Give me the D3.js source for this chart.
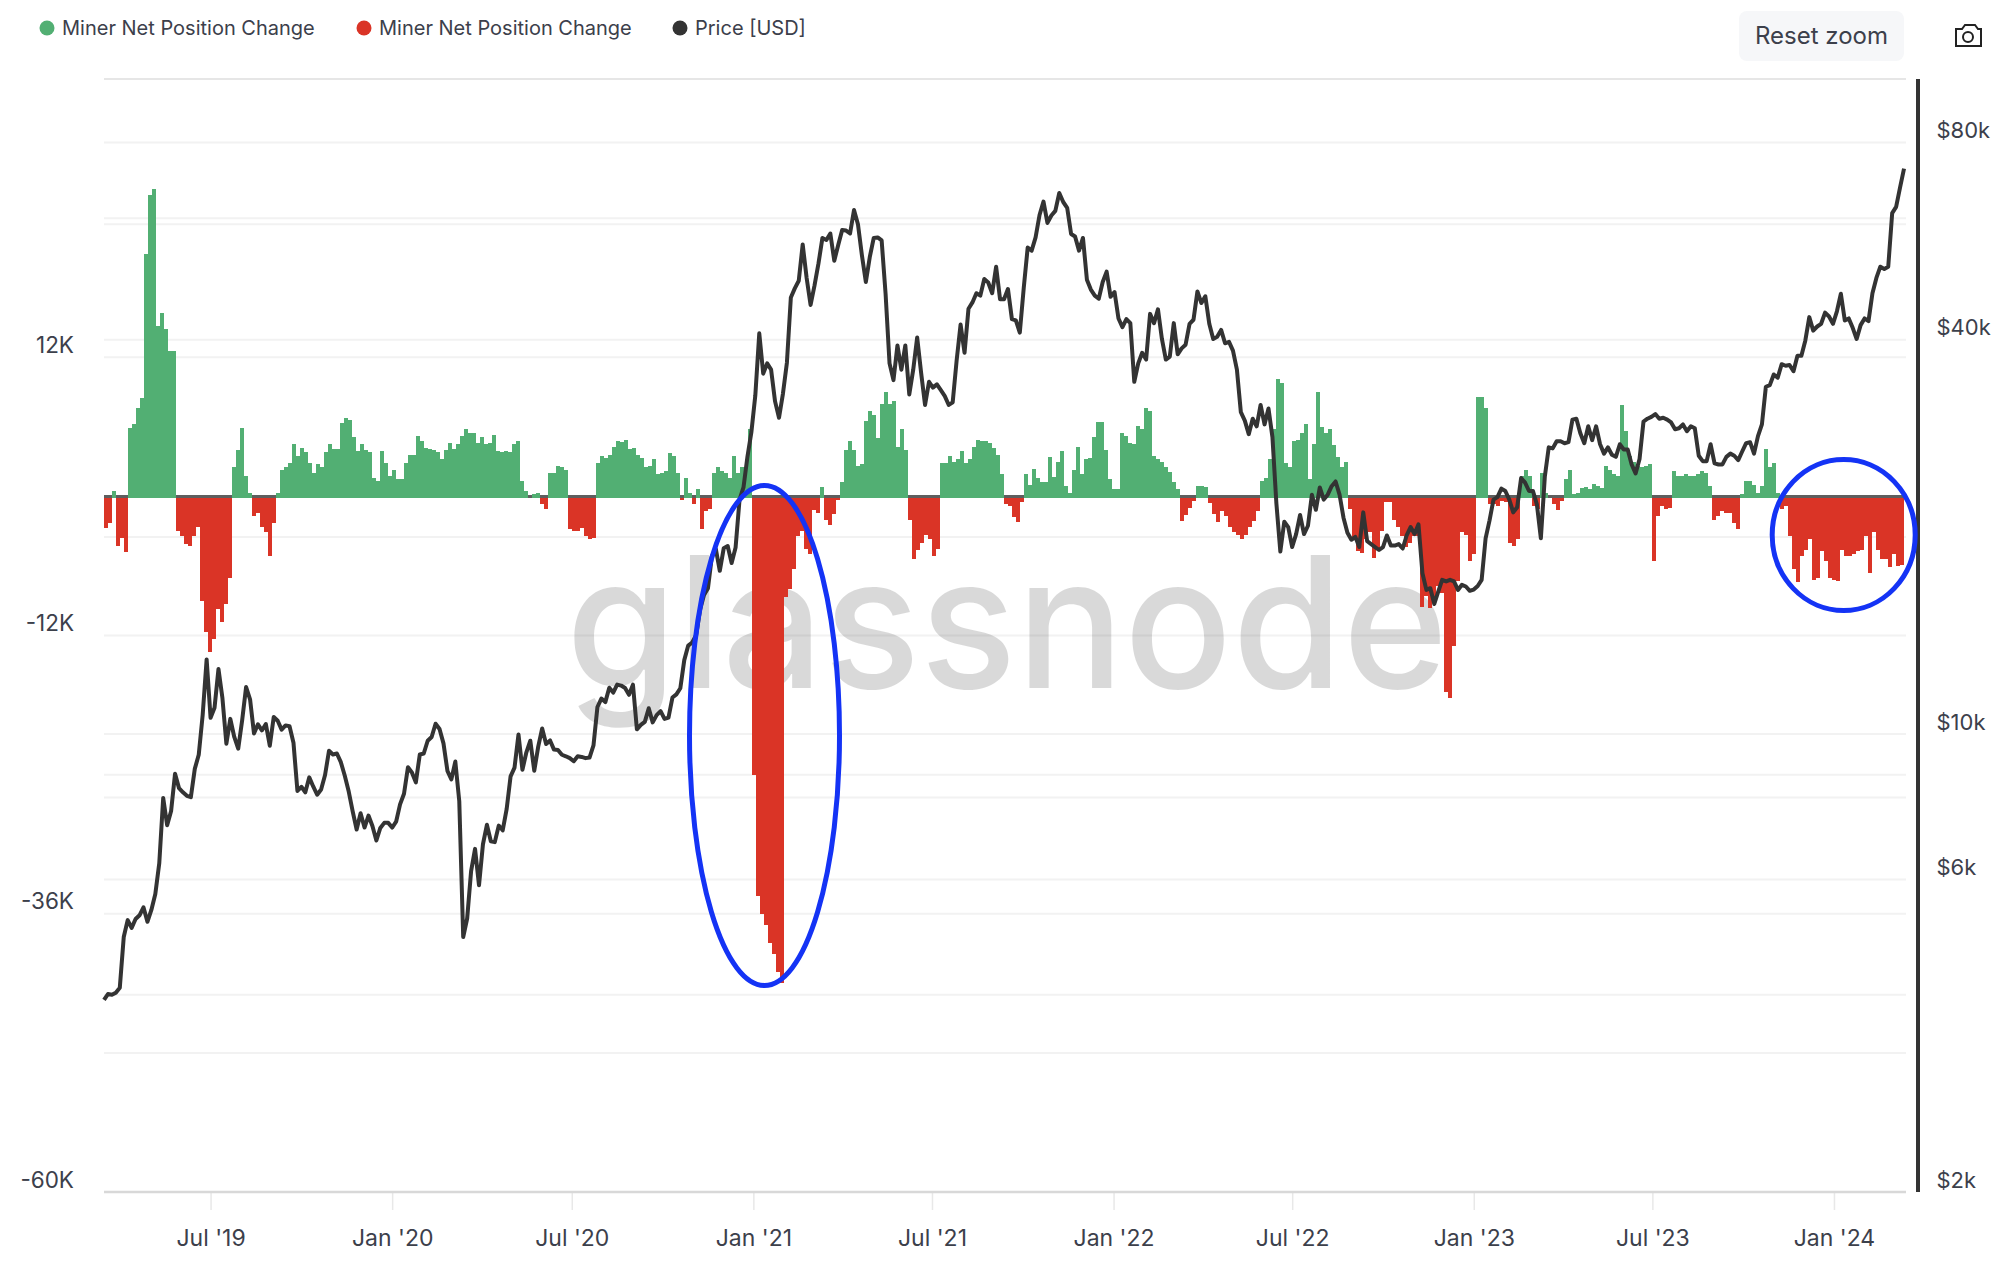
<!DOCTYPE html>
<html>
<head>
<meta charset="utf-8">
<style>
  html, body { margin: 0; padding: 0; background: #fff; }
  svg { display: block; font-family: Inter, "Noto Sans", sans-serif; }
</style>
<script src="https://cdn.jsdelivr.net/npm/d3@7"></script>
</head>
<body>
<div id="chart"></div>
<script>
// Miner net position change, thousands of BTC, one value per ~4 days from Mar 2019
const netPosition = [
  -2.7,-2.3,0.5,-4.3,-3.6,-4.8,5.9,6.2,7.6,8.5,
  20.9,26,26.5,14.7,15.8,14.4,12.5,12.5,-3,-3.4,
  -4.1,-4.3,-3.4,-2.6,-9,-11.7,-13.4,-12.3,-9.7,-10.8,
  -9.3,-7,2.5,4,5.9,1.8,0.3,-1.7,-1.4,-2.6,
  -3.1,-5.1,-2.3,0.3,2.3,2.5,2.9,4.5,3.5,4.2,
  3.8,2.9,2,2.8,2.5,3.8,4.5,4.1,4.1,6.3,
  6.8,6.6,5.1,3.9,4.5,4,3.8,1.6,1.3,3.9,
  2.9,1.8,2.3,1.5,1.5,2.9,3.6,3.6,5.2,4.8,
  4.2,4.1,4,3.8,3.2,4,4.6,4.1,4.5,5.2,
  5.8,5.5,5.5,4.6,5.1,4.5,4.6,5.3,3.9,3.8,
  3.9,3.8,4.5,4.8,1.3,0.5,-0.1,0.2,0.3,-0.7,
  -1.1,2,2,
  2.6,2.5,2.3,-2.8,-3,-3,-2.7,-3.4,-3.7,-3.6,
  2.9,3.5,3.3,3.6,4.3,4.8,4.7,4.9,4.1,4.2,
  3.6,3.3,2.5,2.6,3.2,1.9,2,2.2,3.7,3.5,
  2,-0.3,1.6,0.3,-0.7,0.6,-2.8,-1.3,-1.1,2,
  2.5,2.2,2,1.6,3.5,2,2.5,2.5,5.8,
  -24,-34.5,-36,-37,-38.5,-39.5,-41,-42,-8.7,-8,-6.3,-3.4,-3,-4.5,-5,
  -1.2,-1.4,0.8,-2,-2.5,-1.5,-0.3,1.2,4,4.8,4,2.6,2.8,6.5,7.4,7,5,8,9,8,8.2,4.3,5.8,4,
  -2,-5.4,-4.6,-4,-3.3,-3.7,-5.1,-4.5,
  2.9,2.9,3.5,3,3.2,3.9,2.9,3.2,4.3,4.9,4.8,4.8,4.6,4.2,3.6,1.9,
  -0.7,-0.8,-1.8,-2.2,-0.5,1.9,1,2.4,1.6,1.2,
  1.2,3.4,1.7,3,3.9,0.9,0.3,2.3,4.3,1.9,
  3.2,3.3,5.1,6.4,6.4,4,1.5,0.6,0.6,5.5,
  5.2,4.6,4.5,6.1,5.8,7.6,7.4,3.5,3.2,3,
  2.5,2.1,1.2,0.6,-2.1,-1.6,-1,-0.4,0.9,0.9,
  0.8,-0.6,-1.5,-2.2,-1.3,-1.7,-2.6,-3.1,-3.3,-3.7,
  -3.3,-2.6,-2.1,-1.3,1.3,1.6,3.2,5.8,10.1,9.8,
  2.9,2.5,4.8,4.9,5.5,6.2,1.5,4.5,9,6,
  5.5,5.8,4.4,3.4,2.5,3,-1.1,-3.7,-4.7,-4.9,
  -3.7,-3.1,-5.3,-4.6,-3,-0.5,-0.5,-2,-2.6,-3.4,
  -4.4,-4,-3.4,-3.4,-9.5,-8.6,-9.6,-9.2,-7.7,-8.3,
  -16.9,-17.4,-12.9,-7.3,-3.1,-3.3,-5.6,-5,8.6,8.6,
  7.6,-0.7,-0.7,-0.8,-0.4,-0.5,-4,-4.3,-3.7,1.8,
  2.3,1.8,-0.8,-1.1,2,0.3,-0.1,-0.7,-1.2,-0.4,
  1.5,2.3,0.2,0.3,0.7,0.8,0.6,1.1,0.9,0.7,
  2.6,2.3,1.9,1.8,7.9,5.6,3.5,3,2.6,2.5,
  2.6,2.8,-5.6,-1.7,-0.8,-1.1,-1,2.2,1.8,1.8,
  1.9,1.8,1.8,1.9,2.2,2,0.9,-2,-1.7,-1.3,
  -1.4,-1.4,-2.3,-2.8,0.2,1.3,1.3,1,0.3,0.9,
  4.1,2.5,2.9,0.3,-1.1,-0.8,-3.4,-6.3,-7.4,-5.1,
  -4.6,-3.7,-7.2,-7,-4.7,-5.6,-7,-7.2,-7.3,-4.6,
  -5.1,-5.1,-5,-4.7,-4.6,-3.4,-6.6,-3.1,-4.6,-5.4,
  -5.4,-6.1,-5,-6,-5.9
];

// Price in USD, one value every 4 days from 15 Mar 2019
const priceUsd = [
  3930,4010,4000,4030,4100,4900,5200,5060,5220,5290,
  5440,5170,5390,5700,6350,7990,7260,7630,8700,8270,
  8150,8050,8010,8850,9300,10700,13000,10590,10970,12570,
  11350,9670,10550,9900,9500,10500,11800,11300,10020,10350,
  10130,10360,9600,10620,10480,10160,10310,10280,9700,8190,
  8310,8150,8590,8320,8080,8230,8660,9430,9310,9340,
  9060,8640,8170,7620,7150,7570,7200,7510,7240,6880,
  7190,7320,7320,7200,7350,7810,8110,8900,8740,8440,
  9310,9340,9770,9900,10370,10180,9680,8790,8530,9080,
  7900,4900,5230,6180,6680,5880,6790,7270,6860,6840,
  7250,7130,7680,8620,8890,9990,8820,9380,9770,8790,
  9570,10200,9660,9780,9470,9460,9300,9250,9190,9090,
  9250,9230,9190,9210,9610,11000,11330,11190,11770,11570,
  11900,11860,11760,11480,11900,10170,10330,10440,10950,10420,
  10690,10840,10550,10600,11370,11500,11750,12970,13650,13800,
  14150,15480,16300,16700,18680,19160,17750,19220,19370,18250,
  19270,22800,23800,26500,28900,32900,40900,35500,36800,36000,
  32200,30400,33100,36900,46400,47900,49200,55900,49700,45200,
  48400,52300,57200,56800,58100,52800,55800,58800,58700,58100,
  63100,60000,53800,49000,53500,57200,57300,56700,47000,36800,
  34700,39200,36000,39200,33000,36000,40300,35600,31800,34500,
  33800,34200,33500,32800,31800,32100,37200,42200,38200,44600,
  45600,47100,46700,49500,48900,47100,51700,46100,46100,47800,
  43000,42800,41000,48000,55300,54700,57300,62000,65000,60300,
  61900,62900,67000,64900,63600,58000,57500,54700,57200,49400,
  47700,46700,46200,49000,50800,46500,47300,43100,41800,43000,
  42400,34500,36800,38200,37300,43800,42400,44500,40100,37300,
  37700,42400,38000,38800,39300,42300,42900,47400,45500,46600,
  42300,40100,40400,41400,39500,39700,38500,36000,31000,30100,
  28700,30300,29500,31800,29700,31400,28400,22500,19000,21100,
  20700,19300,20200,21600,20200,20800,23200,22000,23800,22800,
  23200,23900,24300,23200,21400,20300,19800,20000,19300,21800,
  19700,19500,19300,19100,19300,20100,19400,19400,19500,19200,
  20100,20700,20200,20900,17600,16600,16700,15800,16500,17200,
  17100,17200,17100,16600,16900,16800,16550,16620,16830,17200,
  19900,21200,22800,23000,23700,23500,22800,21800,22200,24600,
  24200,23500,23500,22400,19900,24700,27400,27300,28000,28000,
  27800,27900,30200,30300,28800,27800,29500,28100,29500,27700,
  26800,27400,26700,26500,27700,27200,27200,25800,25000,26300,
  30000,30300,30500,30800,30300,30400,30200,29900,29200,29300,
  29700,29000,29500,29300,26600,26100,26100,27700,25900,25800,
  25800,26500,26800,26600,26200,27000,27800,27900,26800,28500,
  29700,33900,34100,35400,35000,36700,36500,36600,35800,37800,
  37800,39900,43300,41300,41900,42300,44000,43400,42300,44200,
  47000,42800,43100,41700,40100,42100,43100,42700,47100,49700,
  51700,51300,51700,62400,63800,68300,73000
];

const leftGridTicks = [36, 24, 12, 0, -12, -24, -36, -48];
const leftLabelTicks = [12, -12, -36, -60];
const rightGridTicks = [100000, 80000, 60000, 40000, 20000, 10000, 8000, 6000, 4000];
const rightLabelTicks = [80000, 40000, 10000, 6000, 2000];
const xTickDates = [
  new Date(2019, 6, 1), new Date(2020, 0, 1), new Date(2020, 6, 1), new Date(2021, 0, 1),
  new Date(2021, 6, 1), new Date(2022, 0, 1), new Date(2022, 6, 1), new Date(2023, 0, 1),
  new Date(2023, 6, 1), new Date(2024, 0, 1)
];
const legendItems = [
  { label: "Miner Net Position Change", color: "#52af73", x: 47 },
  { label: "Miner Net Position Change", color: "#da3426", x: 364 },
  { label: "Price [USD]", color: "#333333", x: 680 }
];

const W = 2006, H = 1288;
const plot = { left: 104, right: 1906, top: 79, bottom: 1192 };
const textColor = "#3c404b";

const svg = d3.select("#chart").append("svg").attr("width", W).attr("height", H);
svg.append("rect").attr("width", W).attr("height", H).attr("fill", "#fff");

const x = d3.scaleTime()
  .domain([new Date(2019, 2, 15), new Date(2024, 2, 14)])
  .range([plot.left, plot.right]);
const xBar = d3.scaleBand()
  .domain(d3.range(netPosition.length))
  .range([plot.left, 1904]);
const yLeft = d3.scaleLinear().domain([-60, 36]).range([plot.bottom, plot.top]);
const yRight = d3.scaleLog().domain([2000, 100000]).range([plot.bottom, plot.top]);

// Grid lines of both axes
const grid = svg.append("g");
grid.selectAll(".gl").data(leftGridTicks).join("line")
  .attr("x1", plot.left).attr("x2", plot.right)
  .attr("y1", d => yLeft(d)).attr("y2", d => yLeft(d))
  .attr("stroke", d => d === 36 ? "#e6e6e6" : "#f2f2f2").attr("stroke-width", 2);
grid.selectAll(".gr").data(rightGridTicks.slice(1)).join("line")
  .attr("x1", plot.left).attr("x2", plot.right)
  .attr("y1", d => yRight(d)).attr("y2", d => yRight(d))
  .attr("stroke", "#f2f2f2").attr("stroke-width", 2);

// Watermark
svg.append("text")
  .attr("x", 566).attr("y", 688)
  .attr("textLength", 882).attr("lengthAdjust", "spacingAndGlyphs")
  .attr("font-size", 183).attr("font-weight", 500)
  .attr("fill", "#000").attr("fill-opacity", 0.15)
  .text("glassnode");

// Bars
const barBase = yLeft(0) + 1.7;
const bars = svg.append("g").attr("shape-rendering", "crispEdges");
bars.selectAll(".bar").data(netPosition).join("rect")
  .attr("x", (d, i) => xBar(i))
  .attr("width", xBar.bandwidth())
  .attr("y", d => d >= 0 ? yLeft(d) : barBase)
  .attr("height", d => d >= 0 ? barBase - yLeft(d) : yLeft(d) - barBase)
  .attr("fill", d => d >= 0 ? legendItems[0].color : legendItems[1].color);
bars.selectAll(".zero").data(netPosition.map((d, i) => [d, i]).filter(p => p[0] < 0)).join("rect")
  .attr("x", p => xBar(p[1]))
  .attr("width", xBar.bandwidth())
  .attr("y", yLeft(0) - 1.7)
  .attr("height", 3.4)
  .attr("fill", "#5e5e5e");

// Price line
const line = d3.line()
  .x((d, i) => x(d3.timeDay.offset(x.domain()[0], i * 4)))
  .y(d => yRight(d));
svg.append("path").datum(priceUsd)
  .attr("d", line)
  .attr("fill", "none")
  .attr("stroke", "#333")
  .attr("stroke-width", 4)
  .attr("stroke-linejoin", "round");

// Axes
const xAxis = svg.append("g")
  .attr("transform", `translate(0,${plot.bottom})`)
  .call(d3.axisBottom(x).tickValues(xTickDates).tickSize(18).tickPadding(20).tickFormat(d3.timeFormat("%b '%y")));
xAxis.select(".domain").remove();
xAxis.selectAll(".tick line").attr("stroke", "#e8e8e8").attr("stroke-width", 1.5);
xAxis.selectAll("text").attr("font-size", 23).attr("fill", textColor).attr("font-family", "Inter");

svg.append("line")
  .attr("x1", plot.left).attr("x2", plot.right)
  .attr("y1", plot.bottom).attr("y2", plot.bottom)
  .attr("stroke", "#d8d8d8").attr("stroke-width", 2.5);

const leftAxis = svg.append("g")
  .attr("transform", "translate(74,-12)")
  .call(d3.axisLeft(yLeft).tickValues(leftLabelTicks).tickSize(0).tickPadding(0).tickFormat(d => d + "K"));
leftAxis.select(".domain").remove();
leftAxis.selectAll("text").attr("font-size", 22.5).attr("fill", textColor).attr("font-family", "Inter");

const rightAxis = svg.append("g")
  .attr("transform", "translate(1936.5,-12)")
  .call(d3.axisRight(yRight).tickValues(rightLabelTicks).tickSize(0).tickPadding(0).tickFormat(d => "$" + d / 1000 + "k"));
rightAxis.select(".domain").remove();
rightAxis.selectAll("text").attr("font-size", 22).attr("fill", textColor).attr("font-family", "Inter");

svg.append("line")
  .attr("x1", 1918).attr("x2", 1918)
  .attr("y1", plot.top).attr("y2", plot.bottom)
  .attr("stroke", "#333").attr("stroke-width", 4);

// Hand-drawn annotation ellipses
svg.append("ellipse").attr("cx", 764.5).attr("cy", 735.5).attr("rx", 75).attr("ry", 250)
  .attr("fill", "none").attr("stroke", "#1433f5").attr("stroke-width", 5);
svg.append("ellipse").attr("cx", 1843.7).attr("cy", 535).attr("rx", 71.5).attr("ry", 75.5)
  .attr("fill", "none").attr("stroke", "#1433f5").attr("stroke-width", 5);

// Legend
const legend = svg.append("g");
legendItems.forEach(item => {
  legend.append("circle").attr("cx", item.x).attr("cy", 28).attr("r", 7.5).attr("fill", item.color);
  legend.append("text")
    .attr("x", item.x + 15).attr("y", 28).attr("dy", "0.35em")
    .attr("font-size", 20).attr("fill", textColor)
    .text(item.label);
});

// Reset zoom button
svg.append("rect").attr("x", 1739).attr("y", 11).attr("width", 165).attr("height", 50).attr("rx", 8).attr("fill", "#f6f7f9");
svg.append("text").attr("x", 1821.5).attr("y", 36).attr("dy", "0.35em")
  .attr("text-anchor", "middle").attr("font-size", 24).attr("fill", textColor)
  .text("Reset zoom");

// Camera icon
const cam = svg.append("g").attr("fill", "none").attr("stroke", "#222").attr("stroke-width", 2);
cam.append("path").attr("d", "M1956 29h6l3-4h10l3 4h3v17h-25z");
cam.append("circle").attr("cx", 1968).attr("cy", 37).attr("r", 5);
</script>
</body>
</html>
